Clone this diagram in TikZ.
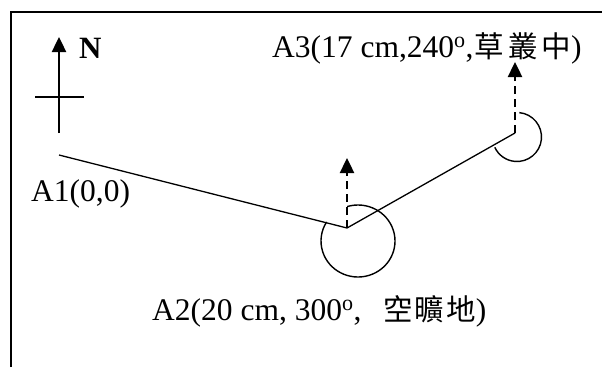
\documentclass[tikz,border=0pt]{standalone}
\usepackage{fontspec}
\setmainfont{Liberation Serif}
\newfontfamily\cjk{Noto Sans CJK TC}
\usetikzlibrary{arrows.meta}
\newcommand{\cjksz}{\cjk\fontsize{29.5}{34}\selectfont}
\begin{document}
\begin{tikzpicture}[x=1pt,y=1pt,
  lbl/.style={inner sep=0pt,anchor=base west,font=\fontsize{31.5}{36}\selectfont},
  frame/.style={line width=1.6pt},
  route/.style={line width=1.3pt},
  north/.style={line width=2.4pt,-{Triangle[width=14pt,length=15pt]}},
  cross/.style={line width=1.8pt},
  bearing/.style={line width=2.4pt,dash pattern=on 8pt off 5pt,-{Triangle[width=14pt,length=15pt]}},
  anglearc/.style={line width=1.4pt}]
\useasboundingbox (0,0) rectangle (602,-367);
% frame
\coordinate (F1) at (11,-367);
\coordinate (F2) at (11,-12);
\coordinate (F3) at (602,-12);
\draw[frame] (F1) -- (F2) -- (F3);
% north arrow
\coordinate (Nb) at (59,-133);
\coordinate (Nt) at (59,-37);
\coordinate (Cl) at (35,-97);
\coordinate (Cr) at (84,-97);
\draw[north] (Nb) -- (Nt);
\draw[cross] (Cl) -- (Cr);
\node[lbl,font=\fontsize{31}{34}\selectfont\bfseries] (N) at (79,-58) {N};
% route points
\coordinate (A1) at (59,-155);
\coordinate (A2) at (347,-228);
\coordinate (A3) at (515,-133);
\coordinate (A2n) at (347,-158);
\coordinate (A3n) at (515,-62);
\draw[route] (A1) -- (A2) -- (A3);
\draw[bearing] (A2) -- (A2n);
\draw[bearing] (A3) -- (A3n);
% angle arcs
\coordinate (A2c) at (358,-241);
\coordinate (A3c) at (517,-137);
\draw[anglearc] ([shift={(107:37 and 36)}]A2c) arc[start angle=107,end angle=-212,x radius=37,y radius=36];
\draw[anglearc] ([shift={(84.5:24.5)}]A3c) arc[start angle=84.5,end angle=-155,radius=24.5];
% labels
\node[lbl] (L1) at (31,-201) {A1(0,0)};
\node[lbl] (L3) at (272,-57) {A3(17 cm,240\textsuperscript{o},\hspace{1pt}{\cjksz 草}\hspace{4pt}{\cjksz 叢}\hspace{4pt}{\cjksz 中})};
\node[lbl] (L2) at (152,-320) {A2(20 cm, 300\textsuperscript{o},\hspace{22pt}{\cjksz 空}\hspace{2pt}{\cjksz 曠}\hspace{2pt}{\cjksz 地})};
\end{tikzpicture}
\end{document}
